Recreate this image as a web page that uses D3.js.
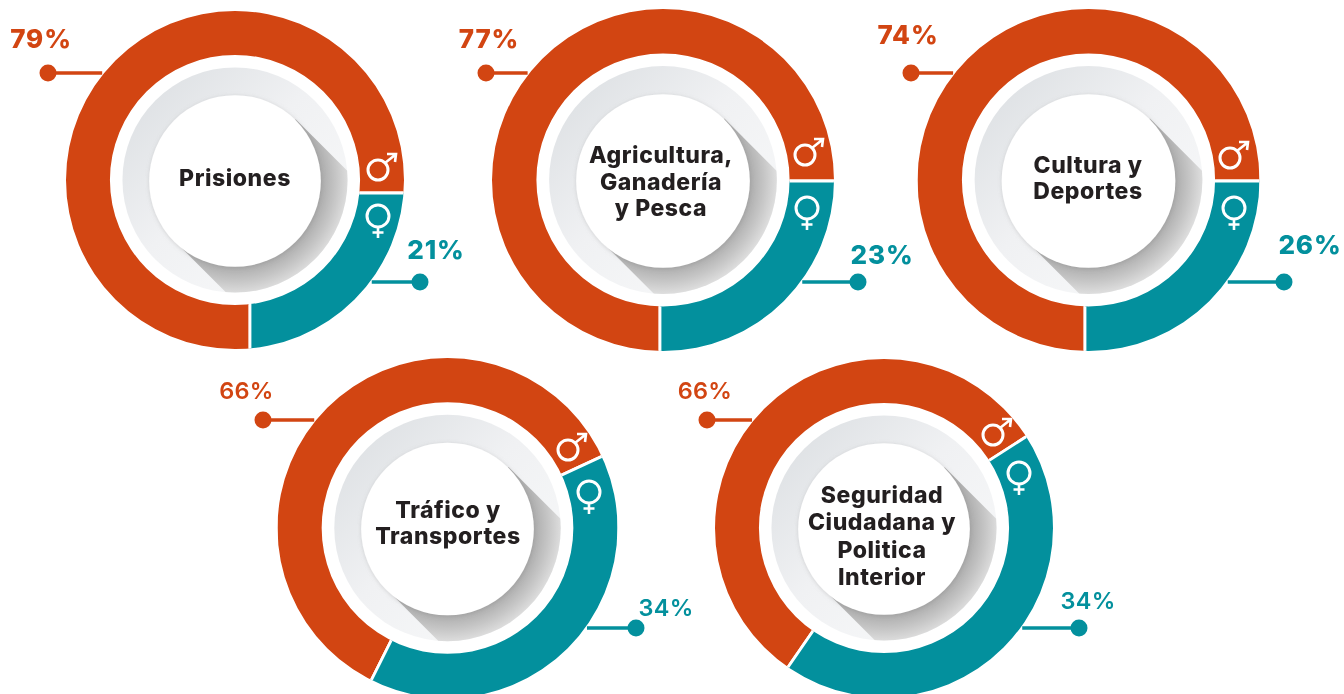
<!DOCTYPE html>
<html>
<head>
<meta charset="utf-8">
<script src="https://cdn.jsdelivr.net/npm/d3@7"></script>
<style>
  html, body { margin: 0; padding: 0; background: #fff; overflow: hidden; }
  svg { display: block; filter: blur(0.6px); }
</style>
</head>
<body>
<div id="viz"></div>
<script>
// values
const categories = [
  ['Prisiones'],
  ['Agricultura,', 'Ganadería', 'y Pesca'],
  ['Cultura y', 'Deportes'],
  ['Tráfico y', 'Transportes'],
  ['Seguridad', 'Ciudadana y', 'Politica', 'Interior']
];
const maleLabels   = ['79%', '77%', '74%', '66%', '66%'];
const femaleLabels = ['21%', '23%', '26%', '34%', '34%'];
// the rings are not drawn to the printed figures, these are the shares as drawn
const maleDrawn   = [75, 75, 75, 60.7, 56.3];
const femaleDrawn = [25, 25, 25, 39.3, 43.7];
const ringStartDeg = [180, 180, 180, 206.6, 214.6];

// layout
const W = 1344, H = 694;
const centers   = [[235, 180], [663, 180], [1088.5, 180], [447.5, 528], [884, 528]];
const radii     = [169, 171, 171, 170, 169];
const splitAt   = [[15, 13], [-3, 1], [-3.5, 1], [0, 0], [0, 0]]; // where the two cuts meet, off centre on some rings
const nameY     = [186, 163, 173, 518, 503];
const nameX     = [235, 661, 1088, 448, 882];
const nameStep  = [0, 26.5, 25.5, 26, 27.3];
const maleDot   = [[48, 73], [486, 73], [911, 73], [263, 420], [707, 420]];
const femaleDot = [[420, 282], [858, 282], [1284, 282], [636, 628], [1079, 628]];
const maleText  = [[41, 48], [489, 48], [908, 44], [246.5, 399], [705, 399]];
const femaleText = [[436, 259], [882, 264], [1310, 254], [666, 616], [1088, 609]];
const maleIcon   = [[378, 170], [805, 155], [1230, 158], [568, 450], [993, 435]];
const femaleIcon = [[378, 216], [807, 208], [1234, 208], [589, 492], [1019, 473]];

const ORANGE = '#d24512', TEAL = '#03909d';
const FONT = 'Inter, "Open Sans", sans-serif';

const svg = d3.select('#viz').append('svg').attr('width', W).attr('height', H);
const defs = svg.append('defs');

const discGrad = defs.append('linearGradient').attr('id', 'discGrad')
  .attr('x1', '12%').attr('y1', '12%').attr('x2', '80%').attr('y2', '80%');
discGrad.append('stop').attr('offset', '0%').attr('stop-color', '#dfe2e5');
discGrad.append('stop').attr('offset', '50%').attr('stop-color', '#f0f1f3');
discGrad.append('stop').attr('offset', '100%').attr('stop-color', '#f6f7f8');

const shadowGrad = defs.append('radialGradient').attr('id', 'shadowGrad')
  .attr('gradientUnits', 'userSpaceOnUse')
  .attr('cx', 0).attr('cy', 0).attr('r', 115);
shadowGrad.append('stop').attr('offset', '74%').attr('stop-color', '#aaaaaa');
shadowGrad.append('stop').attr('offset', '88%').attr('stop-color', '#c6c6c6');
shadowGrad.append('stop').attr('offset', '100%').attr('stop-color', '#e0e0e0');

const softBlur = defs.append('filter').attr('id', 'softBlur')
  .attr('x', '-20%').attr('y', '-20%').attr('width', '140%').attr('height', '140%');
softBlur.append('feDropShadow').attr('dx', 0.5).attr('dy', 1).attr('stdDeviation', 2)
  .attr('flood-color', '#888').attr('flood-opacity', 0.35);

const pie = d3.pie().sort(null);

categories.forEach((lines, i) => {
  const [cx, cy] = centers[i];
  const R = radii[i];
  const start = ringStartDeg[i] * Math.PI / 180;
  const discR = R * 0.666, coreR = R * 0.508;

  const ring = d3.arc().innerRadius(R * 0.74).outerRadius(R).startAngle(0).endAngle(2 * Math.PI);
  defs.append('clipPath').attr('id', 'ringClip' + i)
    .append('path').attr('d', ring());
  defs.append('clipPath').attr('id', 'discClip' + i)
    .append('circle').attr('r', discR);

  const g = svg.append('g').attr('transform', `translate(${cx},${cy})`);

  // slices are cut from the split point and trimmed to the ring
  const arcs = pie.startAngle(start).endAngle(start + 2 * Math.PI)([maleDrawn[i], femaleDrawn[i]]);
  const arc = d3.arc().innerRadius(0).outerRadius(R * 1.3);
  g.append('g').attr('clip-path', `url(#ringClip${i})`)
    .append('g').attr('transform', `translate(${splitAt[i]})`)
    .selectAll('path').data(arcs).join('path')
    .attr('d', arc)
    .attr('fill', (d, k) => k === 0 ? ORANGE : TEAL)
    .attr('stroke', '#fff').attr('stroke-width', 2.8);

  g.append('circle').attr('r', discR).attr('fill', 'url(#discGrad)');

  // long flat shadow of the inner circle, 45 degrees to lower right
  const t = coreR / Math.SQRT2;
  g.append('g').attr('clip-path', `url(#discClip${i})`)
    .append('path')
    .attr('d', d3.line()([[t, -t], [t + R, -t + R], [-t + R, t + R], [-t, t]]))
    .attr('fill', 'url(#shadowGrad)');

  g.append('circle').attr('r', coreR).attr('cy', 1).attr('fill', '#fff').attr('filter', 'url(#softBlur)');

  // centre name
  lines.forEach((ln, k) => {
    svg.append('text')
      .attr('x', nameX[i]).attr('y', nameY[i] + k * nameStep[i])
      .attr('text-anchor', 'middle')
      .attr('font-family', FONT).attr('font-weight', 800).attr('font-size', 23)
      .attr('letter-spacing', '0.55px')
      .attr('fill', '#231f20')
      .text(ln);
  });

  // leader lines, they stop just short of the ring
  const leader = (dot, col, side) => {
    const dy = dot[1] - cy;
    const edge = cx + side * (Math.sqrt(R * R - dy * dy) + 2);
    svg.append('line')
      .attr('x1', dot[0]).attr('x2', edge).attr('y1', dot[1]).attr('y2', dot[1])
      .attr('stroke', col).attr('stroke-width', 3.6);
    svg.append('circle').attr('cx', dot[0]).attr('cy', dot[1]).attr('r', 8.5).attr('fill', col);
  };
  leader(maleDot[i], ORANGE, -1);
  leader(femaleDot[i], TEAL, 1);

  const pctSize = i < 3 ? 26 : 23.5;
  const pctWeight = i < 3 ? 800 : 600;
  const pctSpacing = i < 3 ? '0.9px' : '0.3px';
  [[maleText[i], maleLabels[i], ORANGE], [femaleText[i], femaleLabels[i], TEAL]].forEach(([p, s, col]) => {
    svg.append('text').attr('x', p[0]).attr('y', p[1])
      .attr('text-anchor', 'middle')
      .attr('font-family', FONT).attr('font-weight', pctWeight).attr('font-size', pctSize)
      .attr('letter-spacing', pctSpacing)
      .attr('fill', col).text(s);
  });

  // gender marks
  const m = svg.append('g').attr('transform', `translate(${maleIcon[i]})`)
    .attr('fill', 'none').attr('stroke', '#fff').attr('stroke-width', 3);
  m.append('circle').attr('r', 10);
  m.append('path').attr('d', 'M7,-7L17,-15M9,-16L18,-16L17,-8').attr('stroke-width', 2.6);

  const f = svg.append('g').attr('transform', `translate(${femaleIcon[i]})`)
    .attr('fill', 'none').attr('stroke', '#fff').attr('stroke-width', 3);
  f.append('circle').attr('r', 11);
  f.append('path').attr('d', 'M0,11V22M-5.5,16.5H5.5').attr('stroke-width', 2.6);
});
</script>
</body>
</html>
